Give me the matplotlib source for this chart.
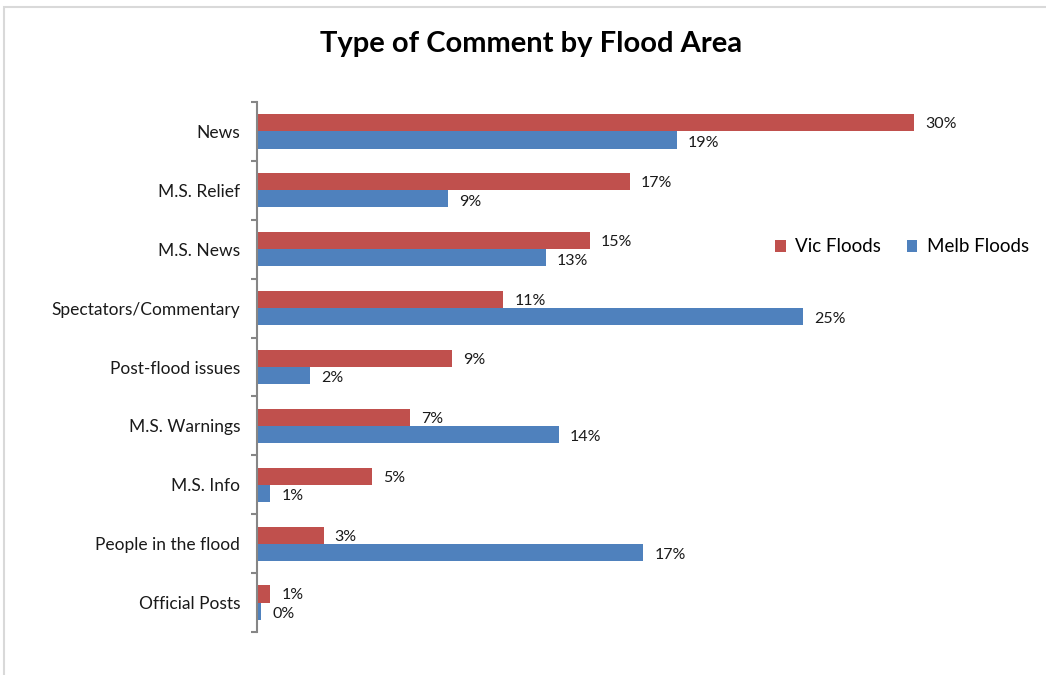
import matplotlib.pyplot as plt
import numpy as np
from matplotlib.patches import Rectangle

# Data (percent of comments)
categories = ['News', 'M.S. Relief', 'M.S. News', 'Spectators/Commentary',
              'Post-flood issues', 'M.S. Warnings', 'M.S. Info',
              'People in the flood', 'Official Posts']
vic_floods = [29.6, 16.8, 15.0, 11.1, 8.8, 6.9, 5.2, 3.0, 0.6]
melb_floods = [18.9, 8.6, 13.0, 24.6, 2.4, 13.6, 0.6, 17.4, 0.2]

plt.rcParams['font.family'] = ['Lato', 'DejaVu Sans']

W, H = 1046, 675
fig = plt.figure(figsize=(W / 100, H / 100), dpi=100)

# light chart border (cut off on the right and bottom)
fig.add_artist(Rectangle((4 / W, -0.1), 1.2, (H - 7) / H + 0.1, transform=fig.transFigure,
                         fill=False, ec='#d9d9d9', lw=1.5, clip_on=False))

px_per_pct = 22.2
xmax = 35
left, top, bottom = 257, 102, 632
ax = fig.add_axes([left / W, (H - bottom) / H, xmax * px_per_pct / W, (bottom - top) / H])

red = '#C0504D'
blue = '#4F81BD'
y = np.arange(len(categories))
h = 0.29
ax.barh(y - h / 2, vic_floods, height=h, color=red, label='Vic Floods')
ax.barh(y + h / 2, melb_floods, height=h, color=blue, label='Melb Floods')

for yy, v in zip(y - h / 2, vic_floods):
    ax.annotate(f'{v:.0f}%', (v, yy), xytext=(8, -1), textcoords='offset points',
                va='center', ha='left', fontsize=11.5, color='#1a1a1a')
for yy, v in zip(y + h / 2, melb_floods):
    ax.annotate(f'{v:.0f}%', (v, yy), xytext=(8, -2), textcoords='offset points',
                va='center', ha='left', fontsize=11.5, color='#1a1a1a')

ax.set_xlim(0, xmax)
ax.set_ylim(len(categories) - 0.5, -0.5)

# ticks at category boundaries, labels at centres
ax.set_yticks(np.arange(len(categories) + 1) - 0.5)
ax.set_yticklabels([])
ax.set_yticks(y, minor=True)
ax.set_yticklabels(categories, minor=True, fontsize=12.5, color='#1a1a1a')
ax.tick_params(axis='y', which='major', length=4, width=1.5, color='#868686', direction='out')
ax.tick_params(axis='y', which='minor', length=0, pad=12)
ax.set_xticks([])

for s in ['top', 'right', 'bottom']:
    ax.spines[s].set_visible(False)
ax.spines['left'].set_color('#868686')
ax.spines['left'].set_linewidth(1.5)

fig.text(531 / W, (H - 44) / H, 'Type of Comment by Flood Area', ha='center', va='center',
         fontsize=21, fontweight='bold', color='black')

fig.legend(loc='center', bbox_to_anchor=(902 / W, (H - 247) / H), ncol=2, frameon=False,
           fontsize=13.5, handlelength=0.55, handleheight=0.55, handletextpad=0.5,
           columnspacing=1.4)

fig.savefig('out.png', dpi=100)
